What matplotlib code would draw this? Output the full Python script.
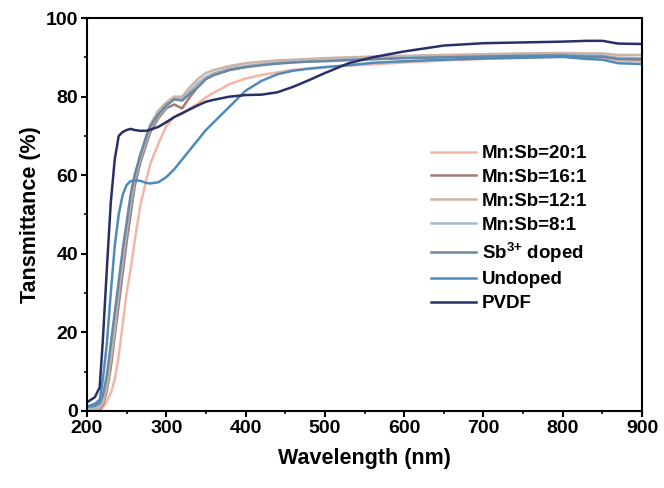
import matplotlib
matplotlib.use("Agg")
import matplotlib.pyplot as plt
from matplotlib.ticker import MultipleLocator

plt.rcParams['font.family'] = ['Liberation Sans', 'DejaVu Sans']
plt.rcParams['font.weight'] = 'bold'
plt.rcParams['mathtext.fontset'] = 'custom'
plt.rcParams['mathtext.rm'] = 'Liberation Sans:bold'
plt.rcParams['mathtext.bf'] = 'Liberation Sans:bold'
plt.rcParams['mathtext.default'] = 'bf'

wl = [200, 210, 216, 220, 225, 230, 235, 240, 245, 250, 255, 260, 267, 275, 280, 290,
      300, 310, 320, 330, 340, 350, 360, 380, 400, 420, 440, 460, 480, 500, 530, 560,
      600, 650, 700, 750, 800, 830, 850, 870, 900]

pvdf = [2.2, 3.5, 6, 18, 36, 53, 64, 70, 71, 71.5, 71.8, 71.5, 71.3, 71.3, 71.6, 72.3,
        73.5, 74.8, 75.8, 76.8, 77.8, 78.7, 79.2, 80.0, 80.4, 80.5, 81.1, 82.5, 84.2, 86.0, 88.5, 90.0,
        91.5, 93.0, 93.6, 93.8, 94.0, 94.2, 94.2, 93.5, 93.4]
undoped = [1.1, 1.8, 2.8, 8, 17, 30, 42, 50, 55, 57.5, 58.5, 58.6, 58.6, 58.0, 57.9, 58.2,
           59.5, 61.5, 64.0, 66.5, 69.0, 71.5, 73.5, 77.5, 81.5, 84.0, 85.7, 86.6, 87.1, 87.5, 88.0, 88.6,
           89.0, 89.4, 89.7, 89.9, 90.1, 89.6, 89.4, 88.5, 88.3]
sb3 = [1.0, 1.3, 2.0, 4, 9, 17, 25, 33, 41, 48, 55, 60, 65, 70, 72.5, 75.5,
       77.8, 79.3, 79.0, 80.8, 82.5, 84.5, 85.5, 86.8, 87.5, 88.0, 88.4, 88.7, 88.9, 89.0, 89.3, 89.5,
       89.8, 90.0, 90.2, 90.4, 90.5, 90.2, 90.2, 89.6, 89.5]
mn8 = [0.5, 0.8, 1.5, 3, 8, 15, 23, 31, 39, 46, 53, 59, 64, 69, 72, 75,
       77.5, 79.5, 79.5, 81.5, 83.5, 85.0, 86.0, 87.2, 87.8, 88.3, 88.6, 88.9, 89.1, 89.3, 89.5, 89.7,
       90.0, 90.2, 90.4, 90.5, 90.7, 90.6, 90.5, 89.9, 89.8]
mn12 = [0.2, 0.3, 0.8, 2, 6, 13, 21, 30, 38, 46, 53, 59, 65, 70, 73, 76.5,
        78.5, 80.0, 80.0, 82.5, 84.5, 86.0, 86.8, 87.8, 88.5, 88.9, 89.2, 89.4, 89.6, 89.8, 90.0, 90.2,
        90.4, 90.6, 90.8, 91.0, 91.1, 91.0, 91.0, 90.6, 90.6]
mn16 = [0.1, 0.2, 0.5, 1.5, 5, 11, 19, 27, 35, 43, 50, 57, 63, 68, 71, 74.5,
        77.0, 78.0, 77.0, 80.0, 82.5, 84.5, 85.5, 86.8, 87.6, 88.2, 88.5, 88.8, 89.0, 89.2, 89.4, 89.6,
        89.9, 90.1, 90.3, 90.4, 90.5, 90.3, 90.2, 89.6, 89.5]
mn20 = [0.0, 0.0, 0.2, 0.8, 2.5, 4.5, 8, 14, 22, 30, 36, 43, 52, 59, 63, 68,
        72.5, 74.8, 75.6, 77.0, 78.3, 79.8, 81.0, 83.2, 84.6, 85.5, 86.2, 86.8, 87.2, 87.5, 87.9, 88.2,
        88.7, 89.2, 89.6, 89.9, 90.2, 90.0, 90.0, 89.2, 89.0]

labels = ['Mn:Sb=20:1', 'Mn:Sb=16:1', 'Mn:Sb=12:1', 'Mn:Sb=8:1',
          r'Sb$^{\text{3+}}$ doped', 'Undoped', 'PVDF']
series = [mn20, mn16, mn12, mn8, sb3, undoped, pvdf]
colors = ['#f2b6a6', '#a27c73', '#cdb3a3', '#a9b9cb', '#6b87a1', '#4f8bba', '#283068']

fig = plt.figure(figsize=(6.64, 4.88), dpi=100)
ax = fig.add_axes([0.131, 0.158, 0.836, 0.805])

for ys, lab, c in zip(series, labels, colors):
    ax.plot(wl, ys, color=c, lw=1.8, label=lab)

ax.set_xlim(200, 900)
ax.set_ylim(0, 100)
ax.xaxis.set_major_locator(MultipleLocator(100))
ax.xaxis.set_minor_locator(MultipleLocator(50))
ax.yaxis.set_major_locator(MultipleLocator(20))
ax.yaxis.set_minor_locator(MultipleLocator(10))
ax.tick_params(which='major', direction='out', length=4.5, width=1.5, labelsize=14, pad=2)
ax.tick_params(which='minor', direction='out', length=2.5, width=1.2)
for s in ax.spines.values():
    s.set_linewidth(1.5)
for lbl in ax.get_xticklabels() + ax.get_yticklabels():
    lbl.set_fontweight('bold')

ax.set_xlabel('Wavelength (nm)', fontsize=15.5, fontweight='bold', labelpad=8)
ax.set_ylabel('Tansmittance (%)', fontsize=15.5, fontweight='bold', labelpad=3)

leg = ax.legend(loc='upper left', bbox_to_anchor=(0.62, 0.677), frameon=False,
                fontsize=13.5, handlelength=2.4, handletextpad=0.3,
                labelspacing=0.36, borderpad=0, borderaxespad=0)
for t in leg.get_texts():
    t.set_fontweight('bold')

fig.savefig('out.png', dpi=100)
